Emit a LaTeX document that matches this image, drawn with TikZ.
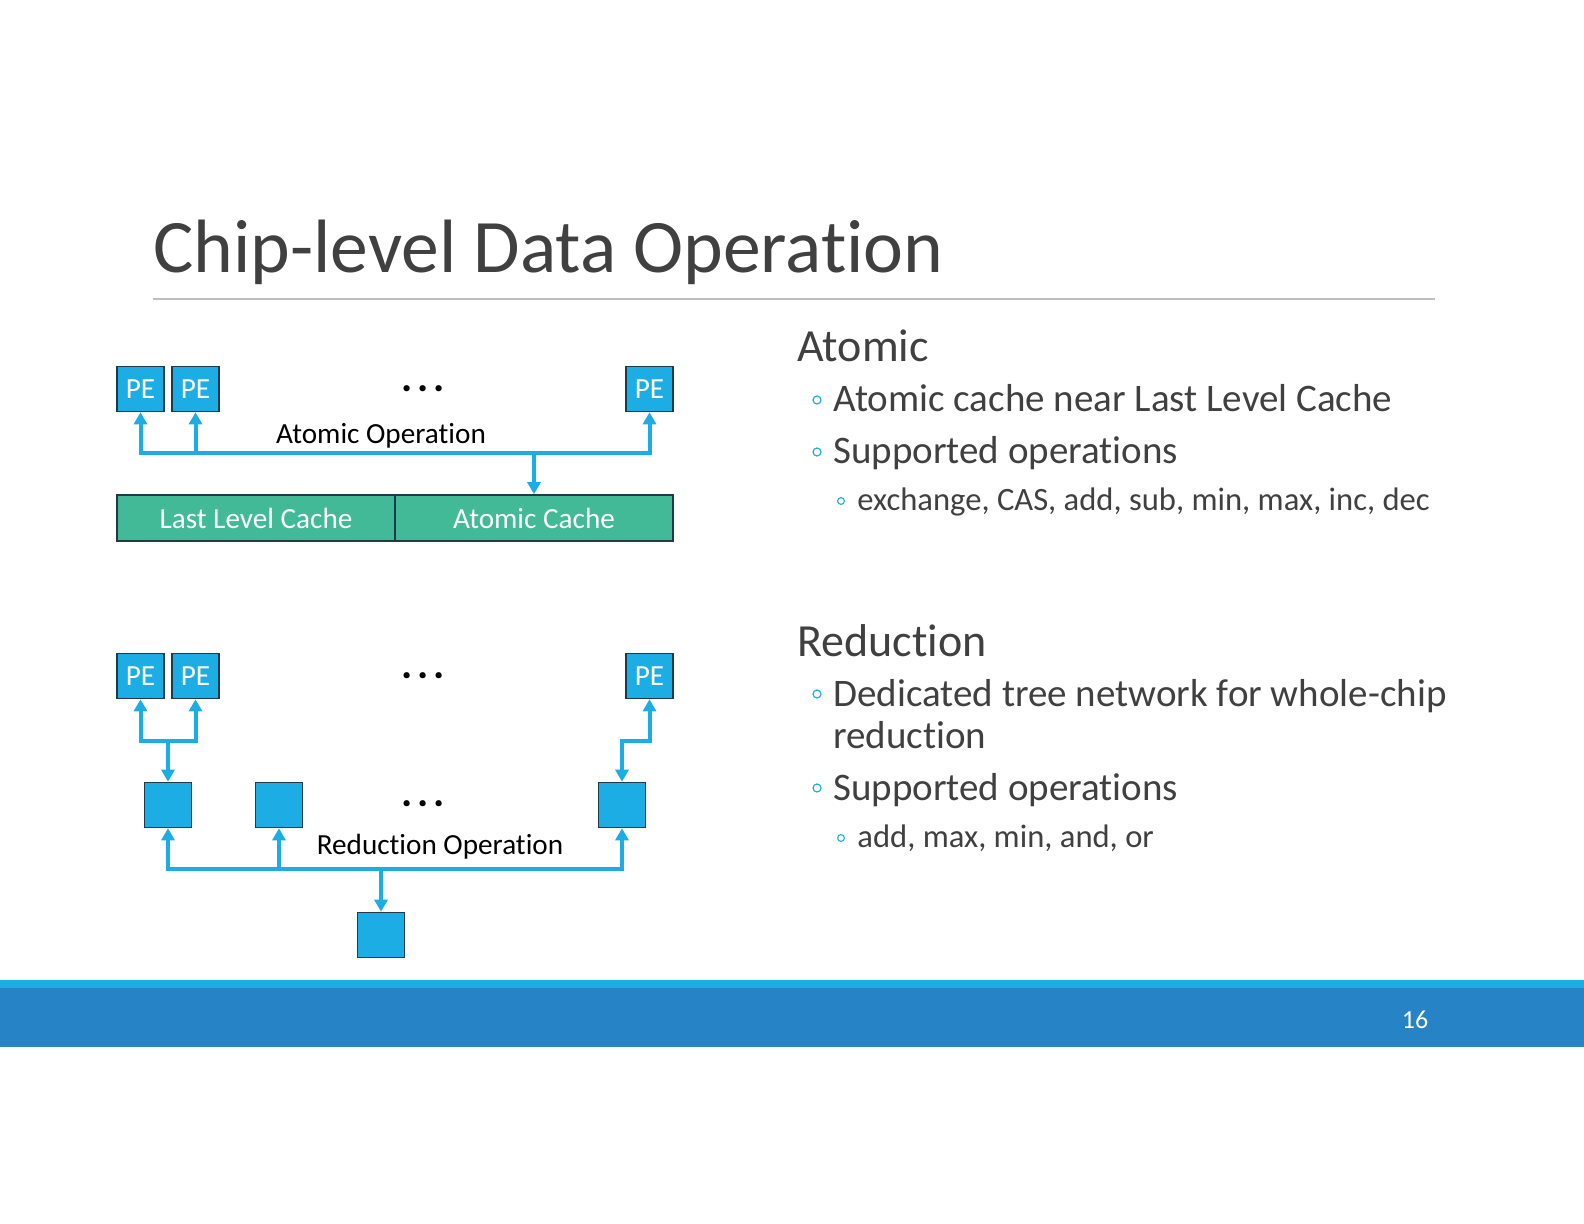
\documentclass[tikz,border=0pt]{standalone}
\usepackage{fontspec}
\setmainfont{Carlito}[Ligatures=NoCommon]
\usetikzlibrary{arrows.meta}
\definecolor{accblue}{HTML}{1CADE4}
\definecolor{darkblue}{HTML}{2683C6}
\definecolor{accgreen}{HTML}{42BA97}
\definecolor{txtgray}{HTML}{404040}
\definecolor{edgedark}{HTML}{1F3A4A}
\definecolor{rulegray}{HTML}{BFBFBF}
\tikzset{
  x=0.5pt, y=-0.5pt,
  blk/.style={draw=edgedark, fill=accblue, line width=0.8pt, minimum width=23.5pt, minimum height=22.5pt, inner sep=0pt, text=white, font=\fontsize{14.6}{16}\selectfont},
  cachebox/.style={draw=edgedark, fill=accgreen, line width=0.8pt, minimum width=139pt, minimum height=23pt, inner sep=0pt, text=white, font=\fontsize{14.6}{16}\selectfont},
  conn/.style={draw=accblue, line width=2pt, line join=miter, arrows={-Triangle[length=6pt,width=6.5pt]}},
  conn2/.style={conn, arrows={Triangle[length=6pt,width=6.5pt]-Triangle[length=6pt,width=6.5pt]}},
  lbl/.style={font=\fontsize{14.6}{16}\selectfont, text=black, inner sep=0pt},
  dots/.style={font=\bfseries\fontsize{21}{21}\selectfont, text=black, inner sep=0pt},
  heading/.style={anchor=base west, inner sep=0pt, text=txtgray, font=\fontsize{23}{26}\selectfont},
  body/.style={anchor=base west, inner sep=0pt, text=txtgray, font=\fontsize{19.5}{23}\selectfont},
  sub/.style={anchor=base west, inner sep=0pt, text=txtgray, font=\fontsize{16.3}{19}\selectfont},
  bul/.style={circle, draw=accblue, line width=0.6pt, minimum size=4pt, inner sep=0pt},
  subbul/.style={circle, draw=accblue, line width=0.55pt, minimum size=3.4pt, inner sep=0pt},
}
\begin{document}
\begin{tikzpicture}
\useasboundingbox (0,0) rectangle (1584,1224);
\fill[white] (0,0) rectangle (1584,1224);
% footer bars
\fill[accblue] (0,980) rectangle (1584,989);
\fill[darkblue] (0,988) rectangle (1584,1047);
\node[text=white, font=\fontsize{13}{15}\selectfont, inner sep=0pt] (pnum) at (1415,1020) {16};
% title
\node[anchor=base west, inner sep=0pt, text=txtgray, font=\fontsize{37.8}{44}\selectfont] (title) at (153,273) {Chip-level Data Operation};
\draw[rulegray, line width=0.6pt] (153,299) -- (1435,299);

% ---------- Atomic diagram ----------
\node[blk] (pe1) at (140.5,389) {PE};
\node[blk] (pe2) at (195.5,389) {PE};
\node[blk] (pe3) at (649.5,389) {PE};
\node[dots] (adots) at (423,389) {.\kern2.5pt.\kern2.5pt.};
\node[cachebox] (llc) at (256,518) {Last Level Cache};
\node[cachebox] (ac) at (534,518) {Atomic Cache};
\coordinate (abus) at (0,453);
\draw[conn2] (pe1.south) -- (pe1.south |- abus) -- (pe3.south |- abus) -- (pe3.south);
\draw[conn] (pe2.south |- abus) -- (pe2.south);
\draw[conn] (ac.north |- abus) -- (ac.north);
\node[lbl] (aop) at (381,436) {Atomic Operation};

% ---------- Reduction diagram ----------
\node[blk] (r1) at (140.5,676) {PE};
\node[blk] (r2) at (195.5,676) {PE};
\node[blk] (r3) at (649.5,676) {PE};
\node[dots] (rdots1) at (423,676) {.\kern2.5pt.\kern2.5pt.};
\node[blk] (s1) at (168,805) {};
\node[blk] (s2) at (279,805) {};
\node[blk] (s3) at (622,805) {};
\node[dots] (rdots2) at (423,804) {.\kern2.5pt.\kern2.5pt.};
\node[blk] (s4) at (381,935) {};
\coordinate (rtop) at (0,741);
\coordinate (rbus) at (0,869);
\draw[conn2] (r1.south) -- (r1.south |- rtop) -- (r2.south |- rtop) -- (r2.south);
\draw[conn] (s1.north |- rtop) -- (s1.north);
\draw[conn2] (r3.south) -- (r3.south |- rtop) -- (s3.north |- rtop) -- (s3.north);
\draw[conn2] (s1.south) -- (s1.south |- rbus) -- (s3.south |- rbus) -- (s3.south);
\draw[conn] (s2.south |- rbus) -- (s2.south);
\draw[conn] (s4.north |- rbus) -- (s4.north);
\node[lbl] (rop) at (440,847) {Reduction Operation};

% ---------- Right text ----------
\node[heading] (h1) at (797,362) {Atomic};
\node[bul] (b1) at (817,400) {};
\node[body] (t1) at (833,412) {Atomic cache near Last Level Cache};
\node[bul] (b2) at (817,452) {};
\node[body] (t2) at (833,464) {Supported operations};
\node[subbul] (b3) at (841,501) {};
\node[sub] (t3) at (857,511) {exchange, CAS, add, sub, min, max, inc, dec};

\node[heading] (h2) at (797,656) {Reduction};
\node[bul] (b4) at (817,694) {};
\node[body] (t4) at (833,706) {Dedicated tree network for whole-chip};
\node[body] (t5) at (833,748) {reduction};
\node[bul] (b5) at (817,788) {};
\node[body] (t6) at (833,800) {Supported operations};
\node[subbul] (b6) at (841,838) {};
\node[sub] (t7) at (857,847) {add, max, min, and, or};
\end{tikzpicture}
\end{document}
